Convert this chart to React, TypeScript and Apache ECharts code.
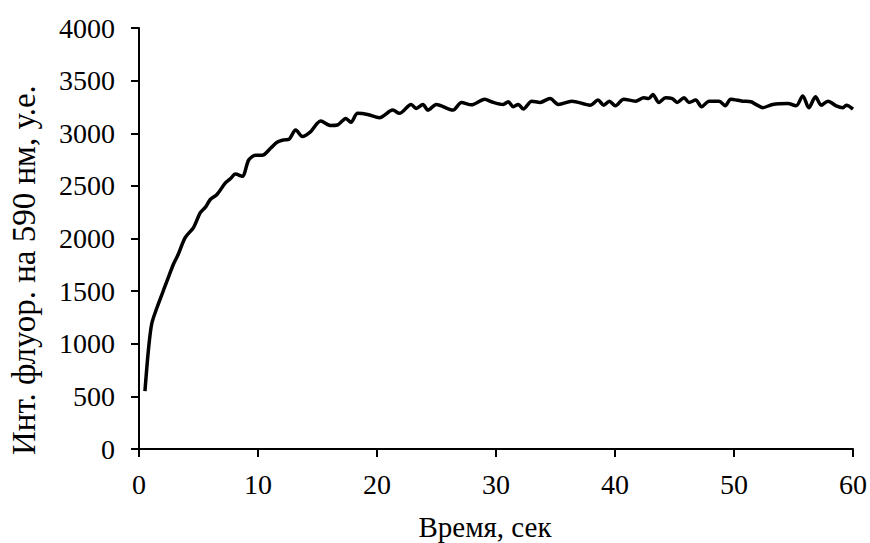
import React, { useEffect, useRef } from "react";
import * as echarts from "echarts";

const timeSec = [
  0.5, 0.8, 1.07, 1.5, 2.05, 2.5, 2.9, 3.3, 3.88, 4.58, 5.15, 5.6, 5.99, 6.55, 7.26, 7.7, 8.1, 8.67, 9.23, 9.79,
  10.35, 11.06, 11.6, 12.18, 12.6, 13.17, 13.73, 14.43, 15.27, 16.12, 16.68, 17.38, 17.81, 18.37, 19.21, 20.2,
  21.33, 21.88, 22.87, 23.29, 23.86, 24.28, 24.98, 26.39, 27.09, 27.93, 29.06, 29.62, 30.6, 31.03, 31.45, 31.87,
  32.3, 33.0, 33.7, 34.54, 35.25, 36.37, 37.92, 38.57, 39.05, 39.52, 40.03, 40.73, 41.72, 42.42, 42.85, 43.18,
  43.69, 44.25, 44.81, 45.23, 45.8, 46.22, 46.78, 47.28, 47.91, 48.75, 49.26, 49.73, 50.72, 51.42, 51.84, 52.41,
  53.25, 54.52, 55.22, 55.78, 56.29, 56.85, 57.33, 57.89, 58.59, 59.15, 59.44, 60.0,
];

const intensity = [
  550, 950, 1190, 1340, 1506, 1640, 1758, 1850, 2009, 2104, 2245, 2300, 2371, 2418, 2528, 2570, 2613, 2591, 2748, 2790,
  2790, 2858, 2915, 2937, 2943, 3031, 2969, 3016, 3116, 3073, 3078, 3141, 3104, 3189, 3179, 3148,
  3220, 3189, 3274, 3236, 3274, 3220, 3274, 3220, 3293, 3270, 3324, 3299, 3274, 3299, 3252, 3274,
  3230, 3305, 3293, 3330, 3274, 3305, 3267, 3315, 3267, 3305, 3261, 3324, 3305, 3337, 3330, 3368,
  3293, 3337, 3330, 3293, 3337, 3293, 3315, 3252, 3305, 3305, 3261, 3324, 3305, 3299, 3274, 3243,
  3274, 3283, 3261, 3355, 3243, 3346, 3267, 3305, 3261, 3243, 3267, 3230,
];

const xTitle = "Время, сек";
const yTitle = "Инт. флуор. на 590 нм, у.е.";

export default function App() {
  const ref = useRef<HTMLDivElement>(null);
  useEffect(() => {
    document.body.style.margin = "0";
    if (!ref.current) return;
    const chart = echarts.init(ref.current, undefined, { renderer: "svg" });
    const font = "Liberation Serif";
    chart.setOption({
      animation: false,
      backgroundColor: "#ffffff",
      grid: { left: 139, right: 17, top: 28, bottom: 94 },
      xAxis: {
        type: "value",
        min: 0,
        max: 60,
        interval: 10,
        axisLine: { lineStyle: { color: "#000", width: 2 } },
        axisTick: { show: true, inside: false, length: 8, lineStyle: { color: "#000", width: 2 } },
        axisLabel: { fontFamily: font, fontSize: 28, color: "#000", margin: 21, formatter: (v: number) => String(v) },
        splitLine: { show: false },
      },
      yAxis: {
        type: "value",
        min: 0,
        max: 4000,
        interval: 500,
        axisLine: { show: true, lineStyle: { color: "#000", width: 2 } },
        axisTick: { show: true, inside: false, length: 8, lineStyle: { color: "#000", width: 2 } },
        axisLabel: { fontFamily: font, fontSize: 28, color: "#000", margin: 24, formatter: (v: number) => String(v) },
        splitLine: { show: false },
      },
      graphic: [
        {
          type: "text",
          x: 24,
          y: 455,
          rotation: Math.PI / 2,
          style: {
            text: yTitle,
            fontFamily: font,
            fontSize: 33,
            fill: "#000",
            align: "left",
            verticalAlign: "middle",
          },
        },
        {
          type: "text",
          x: 485,
          y: 527,
          style: {
            text: xTitle,
            fontFamily: font,
            fontSize: 29,
            fill: "#000",
            align: "center",
            verticalAlign: "middle",
          },
        },
      ],
      series: [
        {
          type: "line",
          data: timeSec.map((t, i) => [t, intensity[i]]),
          showSymbol: false,
          smooth: 0.3,
          lineStyle: { color: "#000", width: 3.5 },
        },
      ],
    });
    return () => chart.dispose();
  }, []);
  return <div ref={ref} style={{ width: 870, height: 543 }} />;
}
